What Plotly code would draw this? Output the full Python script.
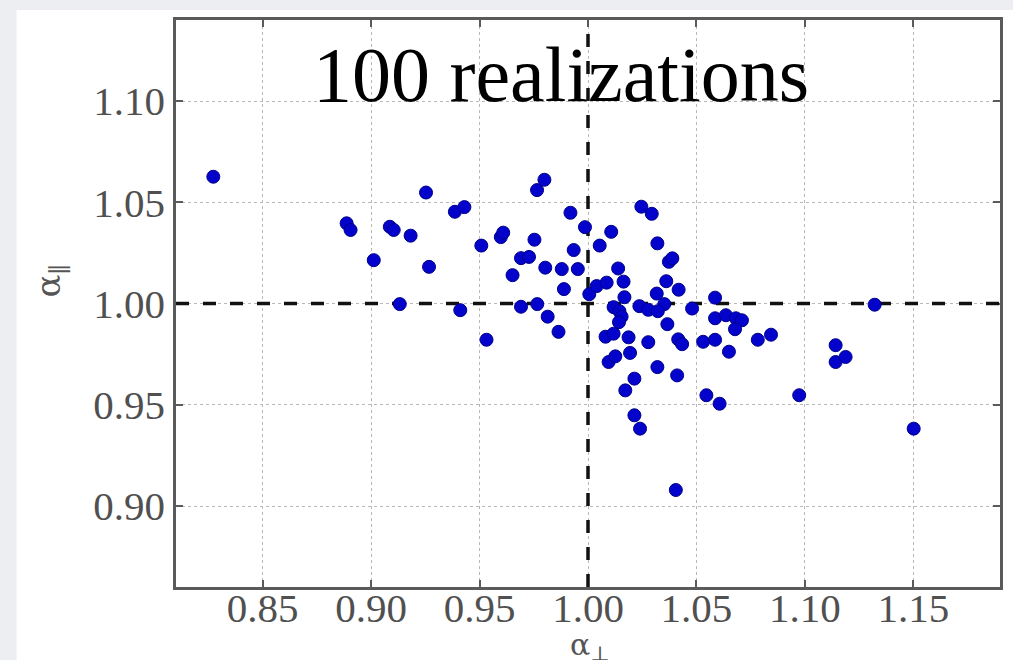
import plotly.graph_objects as go

# alpha_perp values (x) and alpha_parallel values (y), one per realization
alpha_perp = [
    0.8272, 0.8887, 0.8905, 0.9012, 0.9086, 0.9104, 0.9182, 0.9132, 0.9253, 0.9267,
    0.9386, 0.9430, 0.9411, 0.9508, 0.9532, 0.9598, 0.9609, 0.9652, 0.9691, 0.9728,
    0.9691, 0.9753, 0.9765, 0.9799, 0.9766, 0.9803, 0.9879, 0.9953, 0.9814, 0.9864,
    0.9889, 0.9919, 0.9934, 0.9986, 1.0006, 1.0040, 1.0086, 1.0164, 1.0054, 1.0107,
    1.0139, 1.0246, 1.0294, 1.0320, 1.0373, 1.0389, 1.0361, 1.0418, 1.0168, 1.0317,
    1.0352, 1.0118, 1.0145, 1.0155, 1.0143, 1.0237, 1.0278, 1.0322, 1.0480, 1.0366,
    1.0586, 1.0586, 1.0636, 1.0682, 1.0710, 1.0678, 1.0081, 1.0118, 1.0187, 1.0278,
    1.0416, 1.0434, 1.0531, 1.0586, 1.0650, 1.0095, 1.0126, 1.0194, 1.0320, 1.0411,
    1.0172, 1.0214, 1.0546, 1.0607, 1.0214, 1.0240, 1.0405, 1.0783, 1.0844, 1.1142,
    1.1142, 1.1188, 1.0974, 1.1502, 1.1322,
]
alpha_par = [
    1.0626, 1.0396, 1.0363, 1.0214, 1.0379, 1.0363, 1.0335, 0.9997, 1.0548, 1.0181,
    1.0453, 1.0476, 0.9967, 1.0286, 0.9821, 1.0328, 1.0350, 1.0140, 1.0224, 1.0230,
    0.9984, 1.0315, 1.0560, 1.0611, 0.9997, 1.0177, 1.0170, 1.0170, 0.9935, 0.9860,
    1.0071, 1.0448, 1.0264, 1.0377, 1.0046, 1.0086, 1.0103, 1.0108, 1.0286, 1.0354,
    1.0173, 1.0478, 1.0443, 1.0297, 1.0206, 1.0223, 1.0110, 1.0068, 1.0031, 1.0049,
    0.9997, 0.9982, 0.9962, 0.9935, 0.9908, 0.9987, 0.9969, 0.9962, 0.9975, 0.9898,
    1.0029, 0.9927, 0.9942, 0.9927, 0.9917, 0.9873, 0.9836, 0.9851, 0.9833, 0.9809,
    0.9823, 0.9799, 0.9811, 0.9821, 0.9762, 0.9711, 0.9739, 0.9756, 0.9686, 0.9645,
    0.9571, 0.9629, 0.9547, 0.9505, 0.9448, 0.9382, 0.9079, 0.9821, 0.9846, 0.9794,
    0.9711, 0.9736, 0.9547, 0.9382, 0.9994,
]

x_ticks = [0.85, 0.90, 0.95, 1.00, 1.05, 1.10, 1.15]
x_ticklabels = ["0.85", "0.90", "0.95", "1.00", "1.05", "1.10", "1.15"]
y_ticks = [0.90, 0.95, 1.00, 1.05, 1.10]
y_ticklabels = ["0.90", "0.95", "1.00", "1.05", "1.10"]
title_text = "100 realizations"
x_label = "α<sub>⊥</sub>"
y_label = "α<sub>∥</sub>"
ref_x = 1.0
ref_y = 1.0
x_range = [0.81, 1.19]
y_range = [0.86, 1.14]

W, H = 1013, 660
L, R, T, B = 176, 10, 20, 73
pw, ph = W - L - R, H - T - B


def px2paper(px, py):
    return (px - L) / pw, (H - B - py) / ph


fig = go.Figure()

# white card over gray page
cx0, cy0 = px2paper(16, 10)
cx1, cy1 = px2paper(W + 5, H + 5)
fig.add_shape(type="rect", xref="paper", yref="paper", x0=cx0, y0=cy1, x1=cx1, y1=cy0,
              fillcolor="white", line=dict(width=0), layer="below")

# reference dashed lines (drawn before markers so markers sit on top)
dash_line = dict(color="#111111", width=3.5, dash="13px,14px")
fig.add_trace(go.Scatter(x=[ref_x, ref_x], y=y_range, mode="lines", line=dash_line,
                         showlegend=False, hoverinfo="skip", cliponaxis=True))
fig.add_trace(go.Scatter(x=x_range, y=[ref_y, ref_y], mode="lines", line=dash_line,
                         showlegend=False, hoverinfo="skip", cliponaxis=True))

fig.add_trace(go.Scatter(
    x=alpha_perp, y=alpha_par, mode="markers",
    marker=dict(size=13, color="#0303cc", line=dict(color="#00008a", width=1)),
    showlegend=False, hoverinfo="x+y",
))

tickfont = dict(family="Liberation Serif, Times New Roman, serif", size=41, color="#505050")
axis_common = dict(
    showline=True, linecolor="#5a5a5a", linewidth=2.5, mirror="ticks",
    ticks="inside", ticklen=7, tickwidth=1.5, tickcolor="#5a5a5a",
    showgrid=True, gridcolor="#b8b8b8", gridwidth=1, griddash="dot",
    zeroline=False, tickfont=tickfont, layer="below traces",
)
fig.update_xaxes(range=x_range, tickvals=x_ticks, ticktext=x_ticklabels,
                 ticklabelstandoff=-17, **axis_common)
fig.update_yaxes(range=y_range, tickvals=y_ticks, ticktext=y_ticklabels, **axis_common)

tx, ty = px2paper(562, 74)
fig.add_annotation(text=title_text, xref="paper", yref="paper", x=tx, y=ty,
                   xanchor="center", yanchor="middle", showarrow=False,
                   font=dict(family="Liberation Serif, Times New Roman, serif", size=78, color="black"))
lx, ly = px2paper(592, 646)
fig.add_annotation(text=x_label, xref="paper", yref="paper", x=lx, y=ly,
                   xanchor="center", yanchor="middle", showarrow=False,
                   font=dict(family="DejaVu Serif, serif", size=30, color="#555555"))
yx, yy = px2paper(50, 280)
fig.add_annotation(text=y_label, xref="paper", yref="paper", x=yx, y=yy,
                   xanchor="center", yanchor="middle", showarrow=False, textangle=-90,
                   font=dict(family="DejaVu Serif, serif", size=34, color="#555555"))

fig.update_layout(
    width=W, height=H, autosize=False,
    margin=dict(l=L, r=R, t=T, b=B),
    paper_bgcolor="#eceef2", plot_bgcolor="white",
)

fig.write_html("out.html")
